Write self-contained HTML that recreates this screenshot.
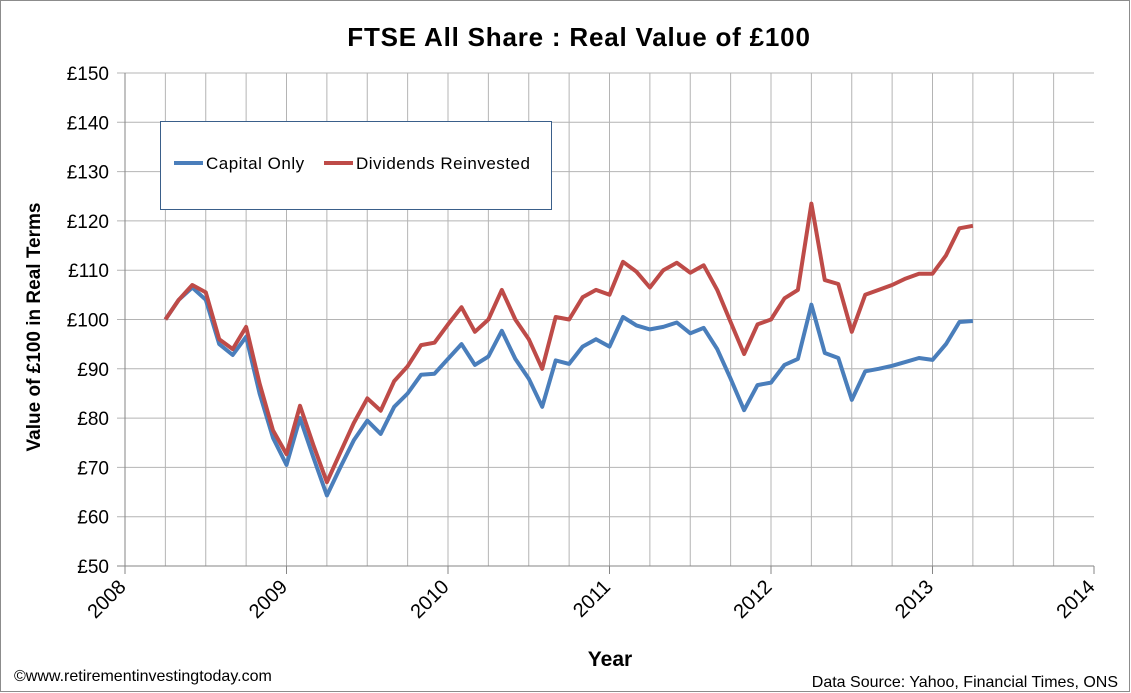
<!DOCTYPE html>
<html><head><meta charset="utf-8"><style>
html,body{margin:0;padding:0;background:#fff}
svg{display:block;font-family:"Liberation Sans",Arial,sans-serif}
</style></head><body>
<svg id="chart" width="1131" height="693" viewBox="0 0 1131 693">
<rect x="0.5" y="0.5" width="1129" height="691" fill="#fff" stroke="#8c8c8c"/>
<text x="579" y="46" text-anchor="middle" font-size="26" font-weight="bold" letter-spacing="0.8">FTSE All Share : Real Value of £100</text>
<g id="grid"></g>
<g id="axes"></g>
<g id="series"></g>
<text transform="translate(40,327) rotate(-90)" text-anchor="middle" font-size="19" font-weight="bold">Value of £100 in Real Terms</text>
<text x="610" y="666" text-anchor="middle" font-size="21" font-weight="bold">Year</text>
<text x="14" y="681" font-size="16">©www.retirementinvestingtoday.com</text>
<text x="1118" y="687" text-anchor="end" font-size="16">Data Source: Yahoo, Financial Times, ONS</text>
<g>
<rect x="160.5" y="121.5" width="391" height="88" fill="#fff" stroke="#3a5f8a"/>
<line x1="174" y1="163" x2="203" y2="163" stroke="#4a7ebb" stroke-width="4"/>
<text x="206" y="169" font-size="17" letter-spacing="0.5">Capital Only</text>
<line x1="324" y1="163" x2="353" y2="163" stroke="#be4b48" stroke-width="4"/>
<text x="356" y="169" font-size="17" letter-spacing="0.5">Dividends Reinvested</text>
</g>
</svg>
<script>
const yTicks=[50,60,70,80,90,100,110,120,130,140,150];
const yearTicks=[2008,2009,2010,2011,2012,2013,2014];
const startYear=2008.25;
const capitalOnly=[100,104,106.5,104,95,92.8,96.5,85,76,70.5,80,72,64.3,70,75.5,79.5,76.8,82.3,85,88.8,89,92,95,90.8,92.5,97.7,92,88,82.3,91.7,91,94.5,96,94.5,100.5,98.8,98,98.5,99.4,97.2,98.3,94,88,81.6,86.7,87.2,90.8,92,103,93.2,92.2,83.7,89.5,90,90.6,91.4,92.2,91.8,95,99.5,99.7];
const dividendsReinvested=[100,104,107,105.5,96,94,98.5,87,77.5,72.7,82.5,74.5,67,73,79,84,81.5,87.5,90.5,94.8,95.3,99,102.5,97.5,100,106,100,96,90,100.5,100,104.5,106,105,111.7,109.7,106.5,110,111.5,109.5,111,106,99.5,93,99,100,104.3,106,123.5,108,107.2,97.5,105,106,107,108.3,109.3,109.3,113,118.5,119];
const NS='http://www.w3.org/2000/svg';
const X0=125,X1=1094,Y0=566,Y1=73;
const xs=t=>X0+(t-2008)/6*(X1-X0);
const ys=v=>Y0-(v-50)/100*(Y0-Y1);
function mk(tag,attrs,parent){const e=document.createElementNS(NS,tag);for(const k in attrs)e.setAttribute(k,attrs[k]);parent.appendChild(e);return e;}
const grid=document.getElementById('grid'),axes=document.getElementById('axes'),series=document.getElementById('series');
for(let q=1;q<24;q++){const x=xs(2008+q/4);
const l=mk('line',{x1:x,x2:x,y1:Y1,y2:Y0,stroke:'#b4b4b4','stroke-width':1},grid);

}
yTicks.forEach(v=>{const y=ys(v);
const l=mk('line',{x1:117,x2:X1,y1:y,y2:y,stroke:v===50?'#868686':'#b4b4b4','stroke-width':1},grid);


const t=mk('text',{x:109,y:y+7,'text-anchor':'end','font-size':19},axes);t.textContent='£'+v;

});
const ax=mk('line',{x1:X0,x2:X0,y1:Y1,y2:Y0,stroke:'#868686'},axes);


yearTicks.forEach(yr=>{const x=xs(yr);
const tk=mk('line',{x1:x,x2:x,y1:Y0,y2:Y0+8,stroke:'#868686'},axes);


const t=mk('text',{transform:`translate(${x+2},${Y0+22}) rotate(-45)`,'text-anchor':'end','font-size':20},axes);t.textContent=yr;

});
function line(data,color,name){const pts=data.map((v,i)=>xs(startYear+i/12).toFixed(1)+','+ys(v).toFixed(1)).join(' ');
const p=mk('polyline',{points:pts,fill:'none',stroke:color,'stroke-width':4,'stroke-linejoin':'round'},series);

}
line(capitalOnly,'#4a7ebb','capital-only-line');
line(dividendsReinvested,'#be4b48','dividends-reinvested-line');
</script>
</body></html>
